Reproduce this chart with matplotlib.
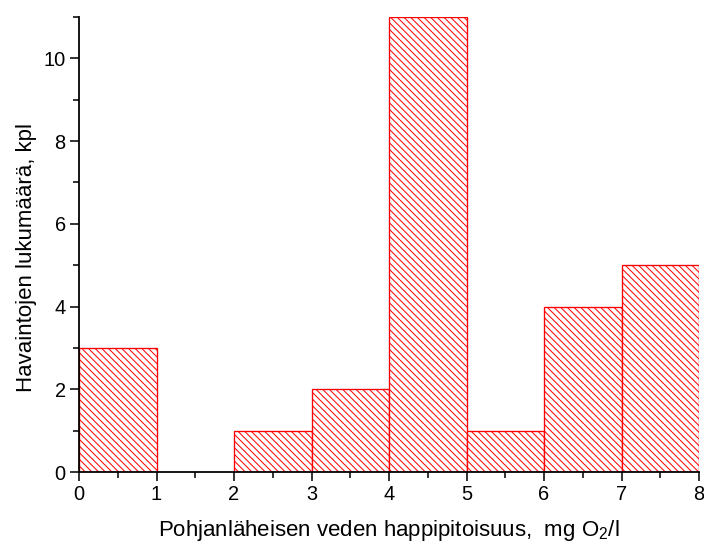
import matplotlib
matplotlib.use("Agg")
import matplotlib.pyplot as plt
from matplotlib.ticker import MultipleLocator

plt.rcParams['font.family'] = ['Liberation Sans', 'DejaVu Sans']
plt.rcParams['mathtext.default'] = 'regular'
plt.rcParams['hatch.linewidth'] = 0.9
plt.rcParams['hatch.color'] = 'red'

bin_edges = [0, 1, 2, 3, 4, 5, 6, 7, 8]
counts = [3, 0, 1, 2, 11, 1, 4, 5]
xlabel = "Pohjanläheisen veden happipitoisuus,  mg O$_2$/l"
ylabel = "Havaintojen lukumäärä, kpl"

DPI = 80
fig = plt.figure(figsize=(704 / DPI, 545 / DPI), dpi=DPI)
ax = fig.add_axes([79 / 704, 1 - 472 / 545, (699 - 79) / 704, (472 - 17) / 545])

lefts = bin_edges[:-1]
widths = [b - a for a, b in zip(bin_edges[:-1], bin_edges[1:])]
for x, w, c in zip(lefts, widths, counts):
    if c > 0:
        ax.bar(x, c, width=w, align='edge', facecolor='white', edgecolor='red',
               hatch='\\\\\\\\', linewidth=1.2, zorder=2)

ax.set_xlim(0, 8)
ax.set_ylim(0, 11)
ax.xaxis.set_major_locator(MultipleLocator(1))
ax.xaxis.set_minor_locator(MultipleLocator(0.5))
ax.yaxis.set_major_locator(MultipleLocator(2))
ax.yaxis.set_minor_locator(MultipleLocator(1))

for s in ['top', 'right']:
    ax.spines[s].set_visible(False)
for s in ['left', 'bottom']:
    ax.spines[s].set_linewidth(1.6)
    ax.spines[s].set_zorder(3)

ax.tick_params(which='major', direction='out', length=8, width=1.4, labelsize=18, pad=4)
ax.tick_params(which='minor', direction='out', length=5, width=1.4)

ax.set_xlabel(xlabel, fontsize=20)
ax.set_ylabel(ylabel, fontsize=20)
ax.xaxis.set_label_coords(0.5, (472 - 518) / 455)
ax.yaxis.set_label_coords((37 - 79) / 620, (472 - 257) / 455)

fig.savefig("out.png", dpi=DPI)
